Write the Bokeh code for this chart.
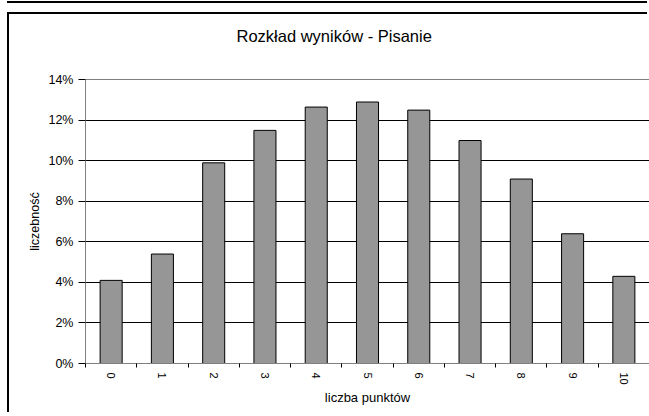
from bokeh.plotting import figure
from bokeh.layouts import column
from bokeh.models import FixedTicker, NumeralTickFormatter, Range1d, ColumnDataSource, Title
from bokeh.embed import file_html
from bokeh.resources import INLINE

categories = ["0", "1", "2", "3", "4", "5", "6", "7", "8", "9", "10"]
values = [0.041, 0.054, 0.099, 0.115, 0.1265, 0.129, 0.125, 0.110, 0.091, 0.064, 0.043]
y_ticks = [0.0, 0.02, 0.04, 0.06, 0.08, 0.10, 0.12, 0.14]

xs = list(range(len(categories)))
src = ColumnDataSource(dict(x=xs, top=values))

FONT = "Liberation Sans"

p = figure(width=640, height=400, output_backend="svg", toolbar_location=None,
           x_range=Range1d(-0.5, len(categories) - 0.5), y_range=Range1d(0, 0.1401),
           min_border_left=76, min_border_right=0, min_border_top=65, min_border_bottom=51)
p.border_fill_color = "white"
p.background_fill_color = "white"

p.title.text = "Rozkład wyników - Pisanie"
p.title.align = "left"
p.title.offset = 151
p.title.standoff = 10
p.title.text_font = FONT
p.title.text_font_size = "16.5px"
p.title.text_font_style = "normal"
p.title.text_color = "black"

# empty spacer between title and plot area
p.add_layout(Title(text=" ", text_font_size="16.5px", standoff=10), "above")

p.vbar(x="x", top="top", width=0.43, source=src, fill_color="#969696",
       line_color="black", line_width=1)

p.outline_line_color = None
p.xgrid.visible = False
p.ygrid.grid_line_color = "black"
p.ygrid.grid_line_width = 1
p.ygrid.ticker = FixedTicker(ticks=y_ticks)

xa = p.xaxis[0]
xa.ticker = FixedTicker(ticks=xs, minor_ticks=[i - 0.5 for i in range(len(categories) + 1)])
xa.major_label_overrides = {i: c for i, c in enumerate(categories)}
xa.major_label_orientation = "vertical"
xa.major_tick_out = 0
xa.major_tick_in = 0
xa.minor_tick_out = 4
xa.minor_tick_in = 0
xa.minor_tick_line_color = "black"
xa.axis_line_color = "#808080"
xa.major_label_standoff = 5
xa.major_label_text_font = FONT
xa.major_label_text_font_size = "11px"
xa.major_label_text_color = "black"
xa.axis_label = "liczba punktów"
xa.axis_label_text_font = FONT
xa.axis_label_text_font_size = "13px"
xa.axis_label_text_font_style = "normal"
xa.axis_label_text_color = "black"
xa.axis_label_standoff = 2

ya = p.yaxis[0]
ya.ticker = FixedTicker(ticks=y_ticks, minor_ticks=[])
ya.formatter = NumeralTickFormatter(format="0%")
ya.major_tick_out = 7
ya.major_tick_in = 0
ya.major_tick_line_color = "black"
ya.minor_tick_out = 0
ya.minor_tick_in = 0
ya.axis_line_color = "#808080"
ya.major_label_standoff = 5
ya.major_label_text_font = FONT
ya.major_label_text_font_size = "12.5px"
ya.major_label_text_color = "black"
ya.axis_label = "liczebność"
ya.axis_label_text_font = FONT
ya.axis_label_text_font_size = "12.5px"
ya.axis_label_text_font_style = "normal"
ya.axis_label_text_color = "black"
ya.axis_label_standoff = 3

layout = column(p, styles={"margin-left": "9px", "margin-top": "14px",
                           "box-shadow": "-2px -2px 0 0 black, -2px -11px 0 0 white, -2px -13px 0 0 black"})

open("out.html", "w").write(file_html(layout, INLINE))
